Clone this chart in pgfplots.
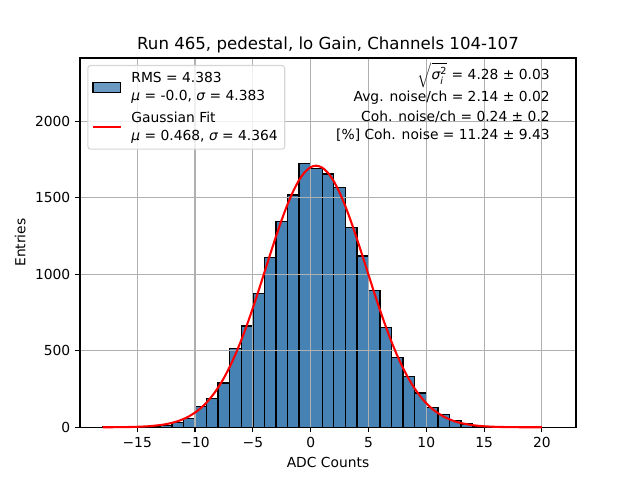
\documentclass[border=0pt]{standalone}
\usepackage{fontspec}
\setmainfont{DejaVu Sans}
\usepackage{pgfplots}
\pgfplotsset{compat=1.18}
\definecolor{steel}{RGB}{70,130,180}
\definecolor{gridc}{RGB}{176,176,176}
\definecolor{legc}{RGB}{214,214,214}
\begin{document}
\begin{tikzpicture}
\begin{axis}[
  set layers, clip=false,
  at={(57.82pt,38.09pt)}, anchor=south west,
  scale only axis, width=358.46pt, height=266.90pt,
  xmin=-19.95, xmax=22.95, ymin=0, ymax=2414,
  xtick={-15,-10,-5,0,5,10,15,20},
  xticklabels={−15,−10,−5,0,5,10,15,20},
  ytick={0,500,1000,1500,2000},
  yticklabels={0,500,1000,1500,2000},
  tick pos=left, tick align=outside, major tick length=3.5pt,
  tick style={black, line width=0.8pt},
  axis line style={line width=0.8pt},
  grid=major, major grid style={gridc, line width=0.8pt},
  ticklabel style={font=\fontsize{10}{12}\selectfont},
  xlabel={ADC Counts}, ylabel={Entries},
  label style={font=\fontsize{10}{12}\selectfont},
  legend style={at={(0.0147,0.981)}, anchor=north west, draw=legc, rounded corners=2pt,
    fill=white, fill opacity=0.8, text opacity=1, line width=0.8pt,
    font=\fontsize{10}{12.7}\selectfont, row sep=3pt, column sep=5pt,
    inner ysep=3pt, cells={align=left, anchor=west}},
]
\addplot[ybar interval, fill=steel, draw=black, line width=1pt, on layer=axis background,
  legend image code/.code={\draw[sharp corners, fill=steel, draw=black, line width=1pt] (0pt,-3.5pt) rectangle (20pt,3.5pt);}]
coordinates {(-18,1)(-17,0)(-16,1)(-15,2)(-14,5)(-13,13)(-12,30)(-11,59)(-10,137)(-9,190)(-8,290)(-7,516)(-6,662)(-5,876)(-4,1109)(-3,1344)(-2,1518)(-1,1726)(0,1693)(1,1656)(2,1569)(3,1307)(4,1120)(5,896)(6,654)(7,458)(8,333)(9,224)(10,131)(11,85)(12,46)(13,22)(14,6)(15,3)(16,1)(17,0)(18,0)(19,0)(20,0)(21,0)};
\addlegendentry{RMS = 4.383\\{\itshape μ} = -0.0, {\itshape σ} = 4.383}
\addplot[red, line width=1.5pt, smooth,
  legend image code/.code={\draw[sharp corners, red, line width=1.5pt] (0pt,0pt) -- (20pt,0pt);}]
coordinates {(-18,0.22)(-17,0.57)(-16,1.39)(-15,3.2)(-14,7.0)(-13,14.6)(-12.5,20.7)(-12,28.9)(-11.5,39.8)(-11,54.1)(-10.5,72.7)(-10,96.3)(-9.5,125.9)(-9,162.5)(-8.5,207.0)(-8,260.3)(-7.5,323.0)(-7,395.5)(-6.5,478.0)(-6,570.2)(-5.5,671.3)(-5,780.0)(-4.5,894.5)(-4,1012.5)(-3.5,1131.0)(-3,1247.0)(-2.5,1356.9)(-2,1457.3)(-1.5,1544.6)(-1,1616.0)(-0.5,1668.4)(0,1700.2)(0.468,1710)(1,1697.3)(1.5,1662.9)(2,1607.8)(2.5,1534.3)(3,1445.1)(3.5,1343.3)(4,1232.3)(4.5,1116.0)(5,997.3)(5.5,879.6)(6,765.7)(6.5,657.8)(7,557.8)(7.5,466.8)(8,385.6)(8.5,314.4)(9,252.9)(9.5,200.9)(10,157.4)(10.5,121.7)(11,92.9)(11.5,70.0)(12,52.1)(12.5,38.2)(13,27.7)(14,14.0)(15,6.7)(16,3.0)(17,1.3)(18,0.54)(19,0.21)(20,0.08)};
\addlegendentry{Gaussian Fit\\{\itshape μ} = 0.468, {\itshape σ} = 4.364}
\node[anchor=base, inner sep=0pt, yshift=6pt, font=\fontsize{12}{14.4}\selectfont] at (rel axis cs:0.5,1)
  {Run 465, pedestal, lo Gain, Channels 104-107};
\node[anchor=base east, inner sep=0pt, font=\fontsize{10}{12}\selectfont] at (rel axis cs:0.9476,0.9418)
  {$\sqrt{\mbox{\itshape σ}^{\mbox{\fontsize{7}{8}\selectfont 2}}_{\mbox{\fontsize{7}{8}\selectfont\itshape i}}}$ = 4.28 ± 0.03};
\node[anchor=base east, inner sep=0pt, font=\fontsize{10}{12}\selectfont] at (rel axis cs:0.9476,0.8822) {Avg. noise/ch = 2.14 ± 0.02};
\node[anchor=base east, inner sep=0pt, font=\fontsize{10}{12}\selectfont] at (rel axis cs:0.9476,0.8271) {Coh. noise/ch = 0.24 ± 0.2};
\node[anchor=base east, inner sep=0pt, font=\fontsize{10}{12}\selectfont] at (rel axis cs:0.9476,0.7796) {[\%] Coh. noise = 11.24 ± 9.43};
\end{axis}
\path (0,0) rectangle (462.53pt,346.90pt);
\end{tikzpicture}
\end{document}
